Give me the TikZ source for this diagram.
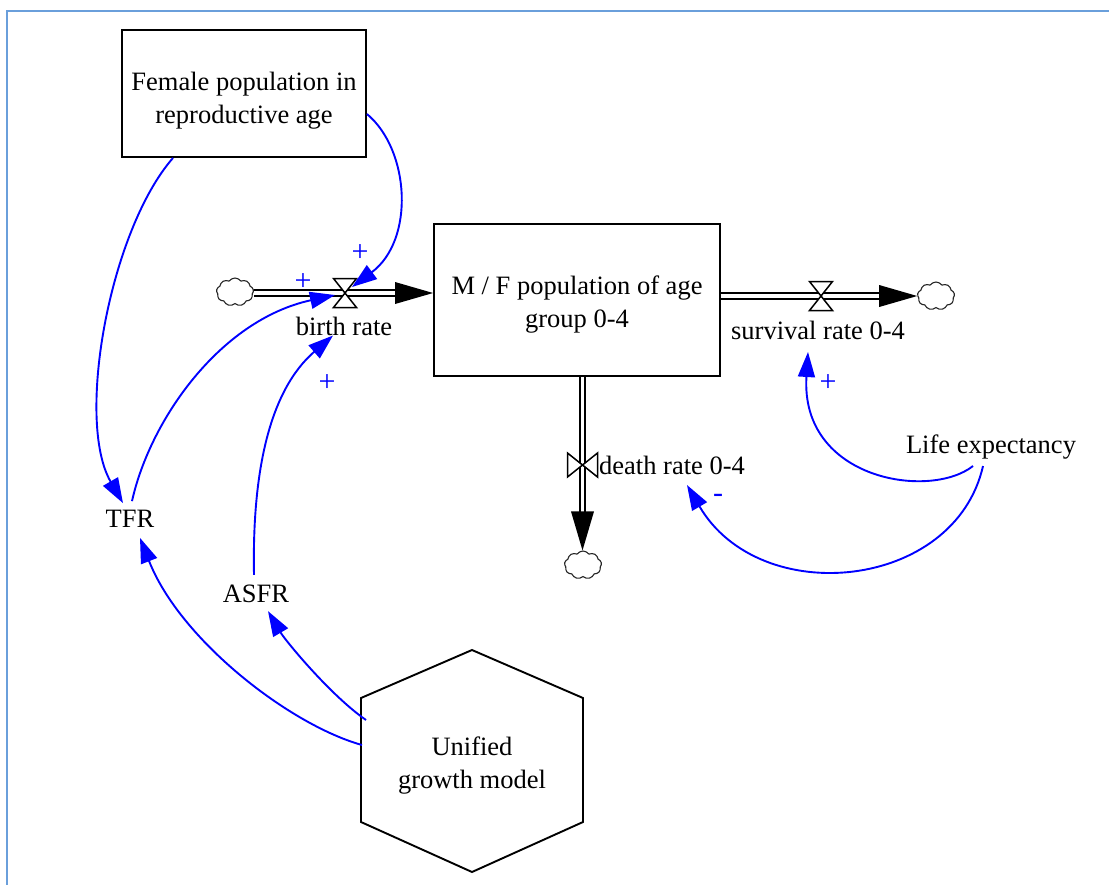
\documentclass[tikz,border=0pt]{standalone}
\usepackage{fontspec}
\setmainfont{Liberation Serif}
\usetikzlibrary{arrows.meta,shapes.symbols,calc}
\definecolor{frameblue}{HTML}{6A9FDB}

\begin{document}
\begin{tikzpicture}[x=1pt,y=-1pt,
  every node/.style={font=\fontsize{26.5}{33}\selectfont, inner sep=0pt},
  stock/.style={draw, line width=1.9pt, align=center},
  link/.style={draw=blue, line width=1.9pt, -{Triangle[length=25pt,width=17pt]}},
  sign/.style={text=blue, font=\fontsize{30}{30}\selectfont},
  pipe/.style={draw, line width=1.7pt, double=white, double distance=3.8pt},
  sink/.style={cloud, cloud puffs=9, cloud puff arc=110, aspect=1.3, draw=black!85,
    line width=1.1pt, minimum width=37pt, minimum height=28pt, inner sep=0pt},
  hvalve/.pic={\draw[line width=1.5pt, fill=white]
    (-11.5,-14.5) -- (11.5,-14.5) -- (-11.5,14.5) -- (11.5,14.5) -- cycle;},
  vvalve/.pic={\draw[line width=1.5pt, fill=white]
    (-15,-12) -- (-15,12) -- (15,-12) -- (15,12) -- cycle;},
]
\useasboundingbox (0,0) rectangle (1109,884);
\fill[white] (0,0) rectangle (1109,884);

% frame
\draw[line width=2.4pt, frameblue] (7,890) -- (7,11) -- (1115,11);

% stocks
\node[stock, minimum width=244pt, minimum height=127pt] (fem) at (244,93.5)
  {\rule{0pt}{32pt}Female population in\\reproductive age};
\node[stock, minimum width=286pt, minimum height=152pt] (mf) at (577,300)
  {\rule{0pt}{28pt}M / F population of age\\group 0-4};

% external model (hexagon)
\node[align=center] (ugm) at (472,766) {Unified\\growth model};
\draw[line width=1.9pt]
  ($(ugm)+(0,-116)$) -- ($(ugm)+(111,-68)$) -- ($(ugm)+(111,56)$) --
  ($(ugm)+(0,106)$) -- ($(ugm)+(-111,56)$) -- ($(ugm)+(-111,-68)$) -- cycle;
\coordinate (ugmA) at ($(ugm)+(-106,-46)$);
\coordinate (ugmB) at ($(ugm)+(-110,-21)$);

% auxiliaries
\node (le) at (991,447) {Life expectancy};
\node (tfr) at (130,519) {TFR};
\node (asfr) at (256,594) {ASFR};

% birth flow
\node[sink] (bsrc) at (235,292) {};
\coordinate (bv) at (345,293);
\coordinate (btip) at (mf.west |- bv);
\draw[pipe] (bsrc.east |- bv) -- ($(btip)+(-37,0)$);
\fill ($(btip)+(-38,-11)$) -- (btip) -- ($(btip)+(-38,11)$) -- cycle;
\pic at (bv) {hvalve};
\node (br) at (344,326) {birth rate};

% survival flow
\coordinate (sv) at (821,296);
\node[sink] (ssnk) at (936,296) {};
\coordinate (stip) at (ssnk.west |- sv);
\draw[pipe] (mf.east |- sv) -- ($(stip)+(-37,0)$);
\fill ($(stip)+(-38,-11)$) -- (stip) -- ($(stip)+(-38,11)$) -- cycle;
\pic at (sv) {hvalve};
\node (sr) at (818,330) {survival rate 0-4};

% death flow
\coordinate (dv) at (582.5,465);
\node[sink] (dsnk) at (583,565) {};
\coordinate (dtip) at (dsnk.north -| dv);
\draw[pipe] (mf.south -| dv) -- ($(dtip)+(0,-37)$);
\fill ($(dtip)+(-11.5,-39)$) -- (dtip) -- ($(dtip)+(11.5,-39)$) -- cycle;
\pic at (dv) {vvalve};
\node[anchor=west] (dr) at (599,465) {death rate 0-4};

% causal links
\draw[link] ($(fem.east)+(0,20.5)$) .. controls (410,150) and (415,240) .. ($(bv)+(7,-6)$);
\draw[link] ($(fem.south)+(-71,0)$) .. controls (110,230) and (75,420) .. ($(tfr.north)+(-7,-7)$);
\draw[link] ($(tfr.north)+(2,-9)$) .. controls (150,420) and (220,320) .. ($(bv)+(-10,2)$);
\draw[link] ($(asfr.north)+(-2,-10)$) .. controls (252,470) and (270,390) .. ($(br.south)+(-11,0)$);
\draw[link] (ugmB) .. controls (290,725) and (180,640) .. ($(tfr.south)+(10,10)$);
\draw[link] (ugmA) .. controls (330,695) and (285,640) .. ($(asfr.south)+(12,8)$);
\draw[link] ($(le)+(-18,19)$) .. controls (930,500) and (800,480) .. ($(sr)+(-10,22)$);
\draw[link] ($(le)+(-8,19)$) .. controls (955,590) and (760,610) .. ($(dr.west)+(88,20)$);

% polarities
\node[sign] (p1) at (360,253) {+};
\node[sign] (p2) at (303,282) {+};
\node[sign] (p3) at (327,383) {+};
\node[sign] (p4) at (828,383) {+};
\node[sign] (p5) at (718,498) {-};
\end{tikzpicture}
\end{document}
